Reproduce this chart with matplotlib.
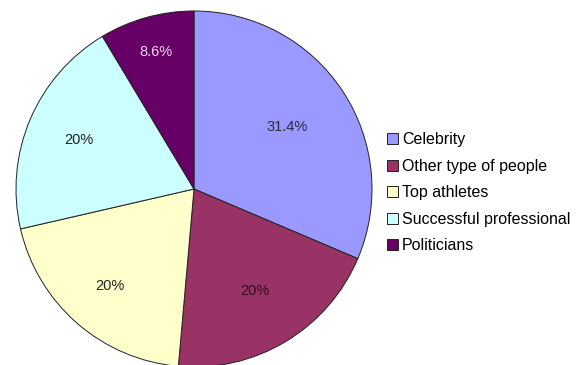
import numpy as np
import matplotlib.pyplot as plt

plt.rcParams['font.family'] = ['Liberation Sans', 'DejaVu Sans']

labels = ['Celebrity', 'Other type of people', 'Top athletes',
          'Successful professional', 'Politicians']
values = [31.4, 20, 20, 20, 8.6]
colors = ['#9999FF', '#993366', '#FFFFCC', '#CCFFFF', '#660066']
text_colors = ['#2a2a44', '#2a0a1a', '#222222', '#222222', '#EED8EE']
label_dist = [0.63, 0.665, 0.72, 0.70, 0.80]

fig = plt.figure(figsize=(5.84, 3.65), dpi=100)
# pie centre ~ (194, 189) px, radius ~178 px
ax = fig.add_axes([16 / 584, -2 / 365, 356 / 584, 356 / 365])
wedges, texts, autotexts = ax.pie(
    values, colors=colors, startangle=90, counterclock=False,
    autopct=lambda p: f'{p:.1f}%'.replace('.0%', '%'), pctdistance=0.7,
    wedgeprops=dict(edgecolor='#222222', linewidth=0.7),
    textprops=dict(fontsize=10.5))
for w, t, c, d in zip(wedges, autotexts, text_colors, label_dist):
    mid = np.deg2rad((w.theta1 + w.theta2) / 2)
    t.set_position((d * np.cos(mid), d * np.sin(mid)))
    t.set_color(c)
ax.set_xlim(-1.0, 1.0)
ax.set_ylim(-1.0, 1.0)
ax.set_aspect('equal')

fig.legend(wedges, labels, loc='upper left', bbox_to_anchor=(381 / 584, 1 - 126 / 365),
           frameon=False, fontsize=11.5, handlelength=0.65, handleheight=0.65,
           handletextpad=0.25, labelspacing=0.72, borderaxespad=0)

fig.savefig('out.png', dpi=100)
